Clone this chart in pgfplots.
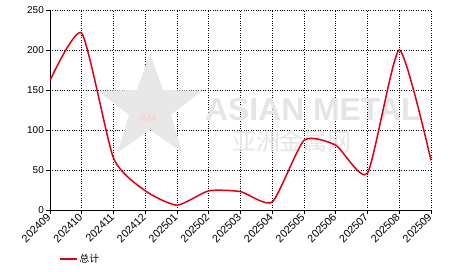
\documentclass[border=0pt]{standalone}
\usepackage{pgfplots}
\pgfplotsset{compat=1.18}
\usepackage{fontspec}
\setmainfont{Liberation Sans}
\newfontfamily\cjk{Noto Sans CJK SC}
\definecolor{amred}{RGB}{220,0,20}
\begin{document}
\begin{tikzpicture}[x=1bp,y=1bp]
\begin{axis}[
  scale only axis,
  width=381bp, height=200bp,
  xmin=0, xmax=12, ymin=0, ymax=250,
  xtick={0,...,12},
  xticklabels={202409,202410,202411,202412,202501,202502,202503,202504,202505,202506,202507,202508,202509},
  ytick={0,50,100,150,200,250},
  axis x line*=bottom, axis y line*=left,
  tick align=outside,
  major tick length=4bp,
  tick style={black, line width=0.8pt},
  axis line style={black, line width=0.8pt},
  grid=major,
  major grid style={black, dotted, line width=0.6pt},
  ticklabel style={font=\fontsize{10}{11}\selectfont, text=black},
  /pgf/number format/assume math mode=true,
  yticklabel style={inner sep=2pt},
  xticklabel style={rotate=45, anchor=east, inner sep=1.5pt, font=\fontsize{10.8}{11}\selectfont},
  legend style={at={(0.015,-0.245)}, anchor=west, draw=none, fill=none, font=\fontsize{10}{11}\selectfont\cjk},
  legend cell align=left,
  every axis plot/.append style={line width=1.5pt},
]
\fill[black!9] (axis cs:3.15,196) -- (axis cs:3.56,150) -- (axis cs:4.80,149) -- (axis cs:3.81,119) -- (axis cs:4.17,72) -- (axis cs:3.15,100) -- (axis cs:2.13,72) -- (axis cs:2.49,119) -- (axis cs:1.50,149) -- (axis cs:2.74,150) -- cycle;
\node[text=red!20, font=\fontsize{11}{11}\selectfont] at (axis cs:3.09,115) {AM};
\node[text=black!10, font=\fontsize{32}{32}\selectfont\bfseries, anchor=west, inner sep=0pt] at (axis cs:4.88,125) {ASIAN METAL};
\node[text=black!10, font=\fontsize{24}{24}\selectfont\cjk, anchor=west, inner sep=0pt] at (axis cs:5.73,86) {亚洲金属网};
\addplot[amred, smooth, tension=0.35] coordinates {
(0,162) (1,221) (2,65) (3,24) (4,6) (5,24) (6,23) (7,10) (8,87) (9,81) (10,46) (11,200) (12,62)
};
\addlegendentry{总计}
\end{axis}
\path[use as bounding box] ([xshift=-50bp,yshift=-62bp]current axis.south west) rectangle ([xshift=35bp,yshift=10bp]current axis.north east);
\end{tikzpicture}
\end{document}
